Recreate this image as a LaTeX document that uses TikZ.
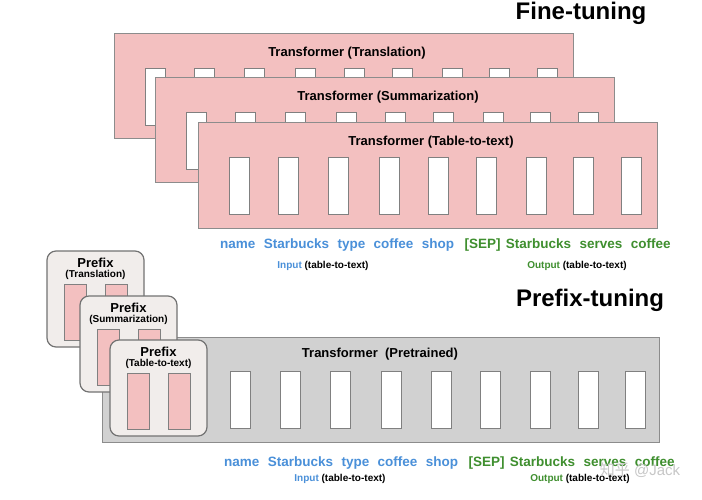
\documentclass[tikz,border=0pt]{standalone}
\usepackage{fontspec}
\setmainfont{Liberation Sans}
\newfontfamily\cjk{Noto Sans CJK SC}
\begin{document}
\begin{tikzpicture}[x=1pt,y=-1pt,
  pinkbox/.style={draw=black!45,line width=1pt,fill=pinkc},
  greybox/.style={draw=black!45,line width=1pt,fill=black!18},
  cell/.style={draw=black!50,line width=0.6pt,fill=white,minimum width=20pt,minimum height=57pt,inner sep=0pt},
  pcell/.style={draw=black!50,line width=0.6pt,fill=pinkc,minimum width=22pt,minimum height=56pt,inner sep=0pt},
  pbox/.style={draw=black!55,line width=1.2pt,fill=prefc,rounded corners=9pt},
  lbl/.style={font=\bfseries\fontsize{13}{15}\selectfont},
  title/.style={font=\bfseries\fontsize{24}{28}\selectfont},
  tok/.style={font=\bfseries\fontsize{13.5}{15}\selectfont,inner sep=0pt,anchor=base west},
  small/.style={font=\bfseries\fontsize{10}{12}\selectfont,inner sep=0pt},
]
\definecolor{pinkc}{HTML}{F3C0C0}
\definecolor{prefc}{HTML}{F1EDEB}
\definecolor{bluec}{HTML}{4A90D9}
\definecolor{greenc}{HTML}{3F8F2F}
\useasboundingbox (0,0) rectangle (702,500);
\fill[white] (0,0) rectangle (702,500);
\node[title,anchor=center] (ft) at (581,13) {Fine-tuning};
% fine-tuning stacks
\foreach \dx/\dy/\nm/\t in {-84/-89/a/Translation,-43/-45/b/Summarization,0/0/c/Table-to-text}{
  \begin{scope}[shift={(\dx,\dy)}]
    \draw[pinkbox] (198,123) rectangle (657,228);
    \node[lbl] (t\nm) at (431,142) {Transformer (\t)};
    \foreach \cx [count=\i] in {239,288,338,389,438,486,536,583,631}
      \node[cell] (c\nm\i) at (\cx,186) {};
  \end{scope}
}
\node[tok,text=bluec] (fi1) at (220,248) {name};
\node[tok,text=bluec] (fi2) at ([xshift=8pt]fi1.base east) {Starbucks};
\node[tok,text=bluec] (fi3) at ([xshift=8pt]fi2.base east) {type};
\node[tok,text=bluec] (fi4) at ([xshift=8pt]fi3.base east) {coffee};
\node[tok,text=bluec] (fi5) at ([xshift=8pt]fi4.base east) {shop};
\node[tok,text=greenc] (fo1) at ([xshift=10pt]fi5.base east) {[SEP]};
\node[tok,text=greenc] (fo2) at ([xshift=5pt]fo1.base east) {Starbucks};
\node[tok,text=greenc] (fo3) at ([xshift=8pt]fo2.base east) {serves};
\node[tok,text=greenc] (fo4) at ([xshift=8pt]fo3.base east) {coffee};
\node[small] (fin) at (323,266) {\textcolor{bluec}{Input} (table-to-text)};
\node[small] (fout) at (577,266) {\textcolor{greenc}{Output} (table-to-text)};
% prefix tuning
\node[title] (pt) at (590,300) {Prefix-tuning};
\draw[greybox] (102,337) rectangle (659,442);
\node[lbl] (tp) at (380,354) {Transformer\ \ (Pretrained)};
\foreach \cx [count=\i] in {240,290,340,391,441,490,540,588,635}
  \node[cell] (cp\i) at (\cx,400) {};
\foreach \dx/\dy/\nm/\t in {-63/-89/a/Translation,-30/-44/b/Summarization,0/0/c/Table-to-text}{
  \begin{scope}[shift={(\dx,\dy)}]
    \draw[pbox] (110,340) rectangle (207,436);
    \node[font=\bfseries\fontsize{13}{15}\selectfont,inner sep=0pt] (pp\nm) at (158.5,352) {Prefix};
    \node[small] (ps\nm) at (158.5,364) {(\t)};
    \node[pcell] (pa\nm) at (138,401) {};
    \node[pcell] (pb\nm) at (179,401) {};
  \end{scope}
}
\node[tok,text=bluec] (bi1) at (224,466) {name};
\node[tok,text=bluec] (bi2) at ([xshift=8pt]bi1.base east) {Starbucks};
\node[tok,text=bluec] (bi3) at ([xshift=8pt]bi2.base east) {type};
\node[tok,text=bluec] (bi4) at ([xshift=8pt]bi3.base east) {coffee};
\node[tok,text=bluec] (bi5) at ([xshift=8pt]bi4.base east) {shop};
\node[tok,text=greenc] (bo1) at ([xshift=10pt]bi5.base east) {[SEP]};
\node[tok,text=greenc] (bo2) at ([xshift=5pt]bo1.base east) {Starbucks};
\node[tok,text=greenc] (bo3) at ([xshift=8pt]bo2.base east) {serves};
\node[tok,text=greenc] (bo4) at ([xshift=8pt]bo3.base east) {coffee};
\node[small] (bin) at (340,479) {\textcolor{bluec}{Input} (table-to-text)};
\node[small] (bout) at (580,479) {\textcolor{greenc}{Output} (table-to-text)};
\node[font=\fontsize{15}{17}\selectfont,text=black!22] (wm) at (640,470) {{\cjk 知乎} @Jack};
\end{tikzpicture}
\end{document}
